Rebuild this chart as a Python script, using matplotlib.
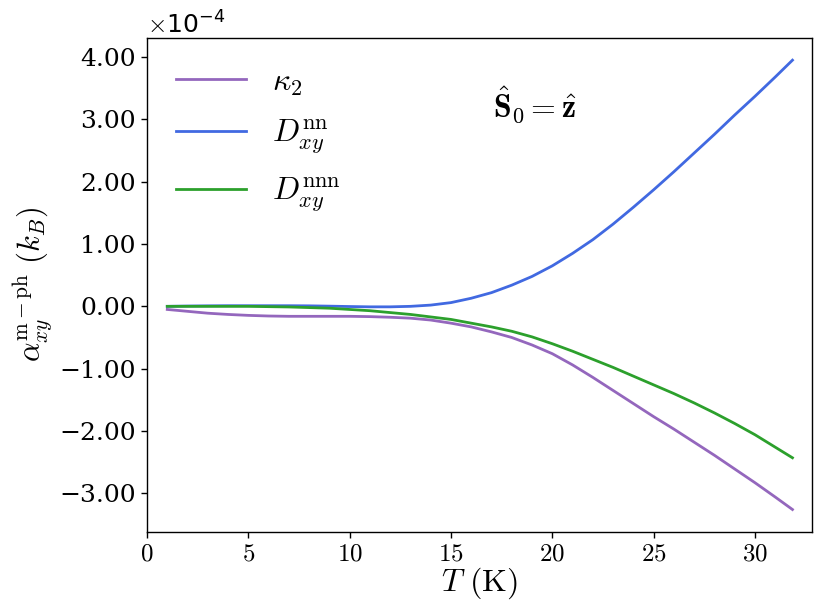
import numpy as np
import matplotlib
matplotlib.use('Agg')
import matplotlib.pyplot as plt
from matplotlib.ticker import ScalarFormatter

plt.rcParams['mathtext.fontset'] = 'cm'
plt.rcParams['axes.formatter.use_mathtext'] = True

# data, in units of 1e-4 k_B
T = [1, 2, 3, 4, 5, 6, 7, 8, 9, 10, 11, 12, 13, 14, 15, 16, 17, 18, 19, 20,
     21, 22, 23, 24, 25, 26, 27, 28, 29, 30, 31, 31.85]
kappa2 = [-0.05, -0.08, -0.11, -0.13, -0.145, -0.155, -0.16, -0.16, -0.16, -0.16, -0.165, -0.175,
          -0.19, -0.22, -0.27, -0.33, -0.41, -0.50, -0.62, -0.76,
          -0.94, -1.14, -1.35, -1.56, -1.77, -1.97, -2.18, -2.39, -2.61, -2.83, -3.06, -3.26]
Dnn = [0.0, 0.005, 0.008, 0.01, 0.01, 0.01, 0.01, 0.008, 0.003, -0.003, -0.008, -0.008,
       0.0, 0.02, 0.06, 0.13, 0.22, 0.34, 0.48, 0.65,
       0.85, 1.07, 1.32, 1.59, 1.87, 2.16, 2.46, 2.76, 3.07, 3.37, 3.68, 3.95]
Dnnn = [0.0, 0.0, 0.0, 0.0, 0.0, -0.005, -0.01, -0.02, -0.03, -0.05, -0.07, -0.10,
        -0.13, -0.17, -0.21, -0.27, -0.33, -0.40, -0.49, -0.60,
        -0.72, -0.85, -0.98, -1.12, -1.26, -1.40, -1.55, -1.71, -1.88, -2.06, -2.26, -2.43]

labels = [r'$\kappa_2$', r'$D_{xy}^{\rm nn}$', r'$D_{xy}^{\rm nnn}$']
colors = ['#9467bd', '#4169e1', '#2ca02c']


class FixedFmt(ScalarFormatter):
    def _set_format(self):
        self.format = '%.2f'


fig = plt.figure(figsize=(8.31, 6.10), dpi=100)
ax = fig.add_axes([0.1769, 0.1279, 0.7999, 0.8103])

Tarr = np.array(T)
for ys, lab, c in zip([kappa2, Dnn, Dnnn], labels, colors):
    ax.plot(Tarr, np.array(ys) * 1e-4, color=c, lw=2, label=lab)

ax.set_xlim(0, 32.8)
fmt = FixedFmt(useMathText=True)
fmt.set_powerlimits((-3, 3))
ax.yaxis.set_major_formatter(fmt)
ax.set_yticks(np.arange(-3, 5) * 1e-4)
ax.set_xticks([0, 5, 10, 15, 20, 25, 30])

ax.tick_params(labelsize=18, length=4.5, width=1.0)
plt.setp(ax.get_yticklabels(), fontfamily='DejaVu Serif')
plt.setp(ax.get_xticklabels(), fontfamily='cmr10')
ax.yaxis.get_offset_text().set_fontsize(18)
for s in ax.spines.values():
    s.set_linewidth(1.0)

ax.set_xlabel(r'$T\ (\rm K)$', fontsize=23, labelpad=0)
ax.set_ylabel(r'$\alpha_{xy}^{\rm m-ph}\ (k_B)$', fontsize=22, labelpad=4)

ax.legend(loc='upper left', frameon=False, fontsize=23, handlelength=2.2,
          labelspacing=0.62, handletextpad=0.8)
ax.text(0.52, 0.864, r'$\hat{\mathbf{S}}_0=\hat{\mathbf{z}}$', transform=ax.transAxes,
        fontsize=23, va='center', ha='left')

fig.savefig('out.png', dpi=100)
